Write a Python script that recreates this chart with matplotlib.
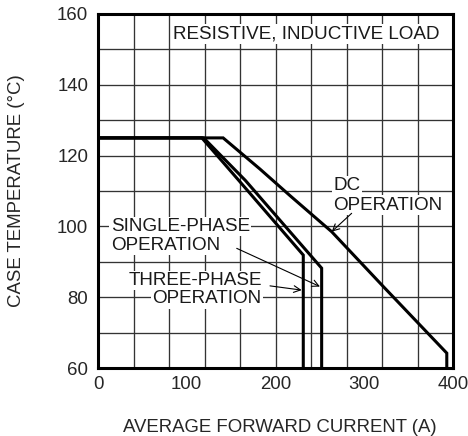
import numpy as np
import matplotlib
matplotlib.use("Agg")
from matplotlib import pyplot as plt

plt.rcParams["font.family"] = ["Liberation Sans", "DejaVu Sans"]

# curve data (average forward current in A, case temperature in degC)
three_phase_current = [0, 117, 158.6, 231.3, 231.3]
three_phase_temp = [125, 125, 113, 91.9, 60]
single_phase_current = [0, 119, 166, 252, 252]
single_phase_temp = [125, 125, 113, 88.2, 60]
dc_current = [0, 141, 182.5, 216.3, 263.3, 321.5, 393, 393]
dc_temp = [125, 125, 116.2, 108.7, 98.5, 83.0, 64.2, 60]

x_ticks = [0, 100, 200, 300, 400]
y_ticks = [60, 80, 100, 120, 140, 160]
x_grid = np.arange(0, 401, 40)
y_grid = np.arange(60, 161, 10)

FS = 13.4
FS_NOTE = 13.6
TXT = "#1a1a1a"

fig = plt.figure(figsize=(4.68, 4.36), dpi=100)
ax = fig.add_axes([98 / 468, 1 - 368 / 436, 355 / 468, 354 / 436])

ax.set_xlim(0, 400)
ax.set_ylim(60, 160)

# grid
ax.vlines(x_grid, 60, 160, color="#333333", lw=0.95, zorder=1)
ax.hlines(y_grid, 0, 400, color="#333333", lw=0.95, zorder=1)

# curves
for cur, temp in [(three_phase_current, three_phase_temp),
                  (single_phase_current, single_phase_temp),
                  (dc_current, dc_temp)]:
    ax.plot(cur, temp, color="black", lw=2.2, solid_joinstyle="miter", zorder=4)

for s in ax.spines.values():
    s.set_linewidth(2.2)
    s.set_zorder(5)

ax.set_xticks(x_ticks)
ax.set_yticks(y_ticks)
ax.tick_params(length=0, labelsize=FS, labelcolor="#262626")
ax.tick_params(axis="x", pad=6)
ax.tick_params(axis="y", pad=7)

ax.set_xlabel("AVERAGE FORWARD CURRENT (A)", fontsize=FS, color="#262626")
ax.set_ylabel("CASE TEMPERATURE (°C)", fontsize=FS, color="#262626")
ax.xaxis.set_label_coords(0.512, -0.145)
ax.yaxis.set_label_coords(-0.205, 0.5)

box = dict(facecolor="white", edgecolor="none", pad=1.0)

ax.text(84.8, 154.4, "RESISTIVE, INDUCTIVE LOAD", fontsize=FS_NOTE, color=TXT,
        ha="left", va="center", bbox=box, zorder=3)
ax.text(265.1, 111.6, "DC", fontsize=FS_NOTE, color=TXT, ha="left", va="center",
        bbox=box, zorder=3)
ax.text(265.1, 106.0, "OPERATION", fontsize=FS_NOTE, color=TXT, ha="left",
        va="center", bbox=box, zorder=3)
ax.text(14.3, 100.0, "SINGLE-PHASE", fontsize=FS_NOTE, color=TXT, ha="left",
        va="center", bbox=box, zorder=3)
ax.text(14.3, 94.6, "OPERATION", fontsize=FS_NOTE, color=TXT, ha="left",
        va="center", bbox=box, zorder=3)
ax.text(184.5, 84.7, "THREE-PHASE", fontsize=FS_NOTE, color=TXT, ha="right",
        va="center", bbox=box, zorder=3)
ax.text(184.5, 79.5, "OPERATION", fontsize=FS_NOTE, color=TXT, ha="right",
        va="center", bbox=dict(facecolor="white", edgecolor="none", pad=1.0),
        zorder=3)

arrow = dict(arrowstyle="->", lw=0.8, color="black", mutation_scale=12,
             shrinkA=0, shrinkB=0)
ax.annotate("", xy=(250.1, 83.0), xytext=(156.3, 93.8), arrowprops=arrow, zorder=4)
ax.annotate("", xy=(229.5, 82.0), xytext=(193.8, 83.2), arrowprops=arrow, zorder=4)
ax.annotate("", xy=(263.3, 98.5), xytext=(285.8, 103.7), arrowprops=arrow, zorder=4)

fig.savefig("out.png", dpi=100, facecolor="white")
